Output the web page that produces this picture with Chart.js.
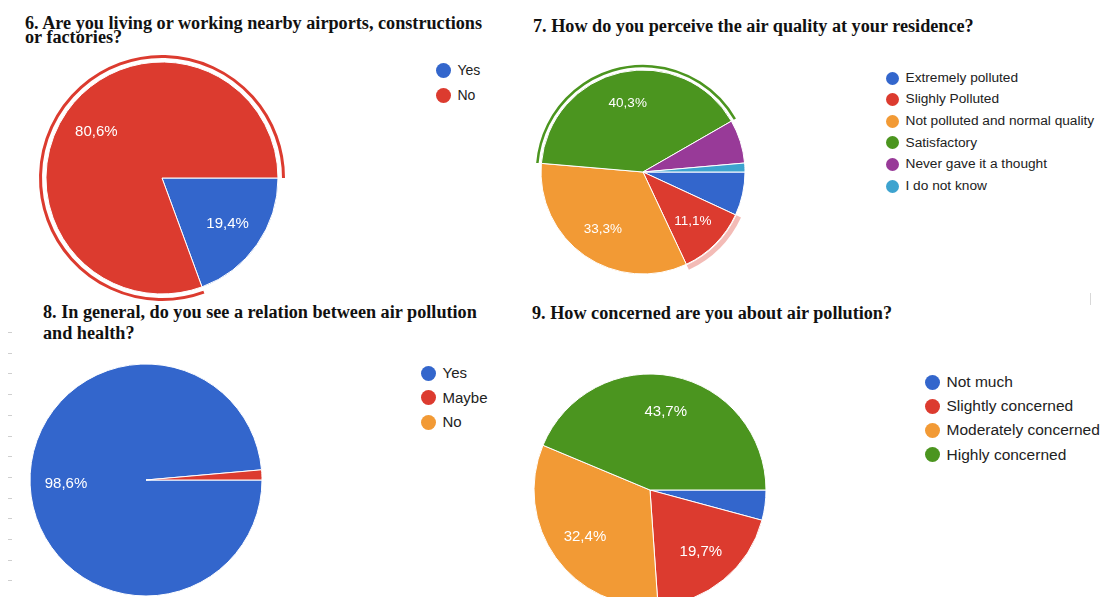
<!DOCTYPE html>
<html>
<head>
<meta charset="utf-8">
<script src="https://cdn.jsdelivr.net/npm/chart.js@4.4.1/dist/chart.umd.min.js"></script>
<style>
  body { margin: 0; width: 1102px; height: 597px; overflow: hidden; background: #fff; position: relative; font-family: Arial, "Liberation Sans", sans-serif; }
  .titulo { position: absolute; font-family: "Liberation Serif", "Times New Roman", serif; font-weight: bold; color: #111; white-space: nowrap; }
  canvas { position: absolute; }
  .legenda { position: absolute; color: #222; }
  .legenda .item { position: absolute; white-space: nowrap; }
  .legenda .bola { position: absolute; border-radius: 50%; }
  .traco { position: absolute; left: 8px; width: 4px; height: 1px; background: #cfcfcf; }
</style>
</head>
<body>

<div class="titulo" style="left:25px; top:16px; font-size:18.2px; line-height:14px;">6. Are you living or working nearby airports, constructions<br>or factories?</div>
<div class="titulo" style="left:533px; top:16px; font-size:18.2px; line-height:21px;">7. How do you perceive the air quality at your residence?</div>
<div class="titulo" style="left:43px; top:302px; font-size:18.2px; line-height:21px;">8. In general, do you see a relation between air pollution<br>and health?</div>
<div class="titulo" style="left:532px; top:303px; font-size:18.2px; line-height:21px;">9. How concerned are you about air pollution?</div>

<canvas id="q6" width="260" height="260" style="left:32px; top:48px;"></canvas>
<canvas id="q7" width="230" height="230" style="left:528px; top:57px;"></canvas>
<canvas id="q8" width="260" height="260" style="left:16px; top:350px;"></canvas>
<canvas id="q9" width="260" height="260" style="left:520px; top:360px;"></canvas>

<div id="leg6" class="legenda"></div>
<div id="leg7" class="legenda"></div>
<div id="leg8" class="legenda"></div>
<div id="leg9" class="legenda"></div>

<div style="position:absolute; left:1090px; top:293px; width:1px; height:12px; background:#d8d8d8;"></div>

<script>
// Respostas do questionário (% de respondentes)
const q6Labels = ['Yes', 'No'];
const q6Values = [19.4, 80.6];

const q7Labels = ['Extremely polluted', 'Slighly Polluted', 'Not polluted and normal quality', 'Satisfactory', 'Never gave it a thought', 'I do not know'];
const q7Values = [6.9, 11.1, 33.3, 40.3, 6.9, 1.4];

const q8Labels = ['Yes', 'Maybe', 'No'];
const q8Values = [98.6, 1.4, 0];

const q9Labels = ['Not much', 'Slightly concerned', 'Moderately concerned', 'Highly concerned'];
const q9Values = [4.2, 19.7, 32.4, 43.7];

const cores = ['#3366cc', '#dc3b2f', '#f29a35', '#4b951f', '#983a98', '#3da3cf'];

// Plugin: anel de destaque em volta da fatia + rótulo de % dentro da fatia
const rotulos = {
    id: 'rotulos',
    afterDatasetsDraw(chart, args, opts) {
        const ctx = chart.ctx;
        const meta = chart.getDatasetMeta(0);
        const valores = chart.data.datasets[0].data;

        (opts.aneis || []).forEach(a => {
            const arc = meta.data[a.indice];
            ctx.save();
            ctx.beginPath();
            ctx.arc(arc.x, arc.y, arc.outerRadius + a.distancia, arc.startAngle, arc.endAngle);
            ctx.strokeStyle = a.cor;
            ctx.lineWidth = a.largura;
            ctx.stroke();
            ctx.restore();
        });

        ctx.save();
        ctx.fillStyle = '#fff';
        ctx.font = opts.fonte;
        ctx.textAlign = 'center';
        ctx.textBaseline = 'middle';
        meta.data.forEach((arc, i) => {
            if (valores[i] < 10) return; // fatias pequenas ficam sem rótulo
            const meio = (arc.startAngle + arc.endAngle) / 2;
            const d = arc.outerRadius * 0.69;
            const txt = valores[i].toFixed(1).replace('.', ',') + '%';
            ctx.fillText(txt, arc.x + Math.cos(meio) * d, arc.y + Math.sin(meio) * d);
        });
        ctx.restore();
    }
};

function pizza(id, labels, values, raio, fonte, aneis) {
    return new Chart(document.getElementById(id), {
        type: 'pie',
        data: {
            labels: labels,
            datasets: [{
                data: values,
                backgroundColor: cores.slice(0, values.length),
                borderColor: '#ffffff',
                borderWidth: 1,
                hoverOffset: 0
            }]
        },
        options: {
            responsive: false,
            animation: false,
            events: [],
            rotation: 90,
            radius: raio,
            layout: { padding: 0 },
            plugins: {
                legend: { display: false },
                tooltip: { enabled: false },
                rotulos: { fonte: fonte, aneis: aneis }
            }
        },
        plugins: [rotulos]
    });
}

// Legenda em HTML, ao lado de cada pizza
function legenda(id, labels, x, y, passo, bola, fonte) {
    const box = document.getElementById(id);
    labels.forEach((nome, i) => {
        const cy = y + i * passo;
        const b = document.createElement('span');
        b.className = 'bola';
        b.style.cssText = `left:${x - bola / 2}px; top:${cy - bola / 2}px; width:${bola}px; height:${bola}px; background:${cores[i]};`;
        box.appendChild(b);
        const t = document.createElement('div');
        t.className = 'item';
        t.textContent = nome;
        t.style.cssText = `left:${x + bola / 2 + 7}px; top:${cy - fonte * 0.6}px; font-size:${fonte}px; line-height:${fonte * 1.2}px;`;
        box.appendChild(t);
    });
}

pizza('q6', q6Labels, q6Values, 116, '15px Arial', [
    { indice: 1, distancia: 5.5, largura: 3, cor: '#dc3b2f' }
]);
pizza('q7', q7Labels, q7Values, 102, '13.5px Arial', [
    { indice: 3, distancia: 4, largura: 2.5, cor: '#4b951f' },
    { indice: 1, distancia: 3.5, largura: 5, cor: 'rgba(220,59,47,0.35)' }
]);
pizza('q8', q8Labels, q8Values, 116, '15px Arial', []);
pizza('q9', q9Labels, q9Values, 116, '15px Arial', []);

legenda('leg6', q6Labels, 443, 70, 25, 15, 14);
legenda('leg7', q7Labels, 892, 78, 21.6, 13, 13.7);
legenda('leg8', q8Labels, 428, 373, 24.5, 15, 15);
legenda('leg9', q9Labels, 932, 382, 24.3, 15, 15.5);

// tracinhos cinza da margem esquerda
for (let k = 0; k < 13; k++) {
    const d = document.createElement('div');
    d.className = 'traco';
    d.style.top = (332 + k * 20.7) + 'px';
    document.body.appendChild(d);
}
</script>
</body>
</html>
